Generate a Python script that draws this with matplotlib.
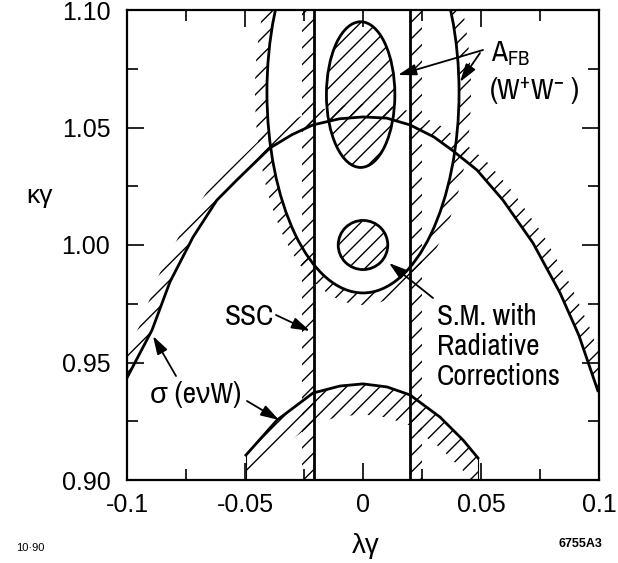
import numpy as np
import matplotlib
matplotlib.use('Agg')
import matplotlib.pyplot as plt
from matplotlib.patches import Ellipse, Annulus, Polygon
from matplotlib.ticker import FixedLocator

plt.rcParams['font.family'] = ['Liberation Sans', 'DejaVu Sans']
plt.rcParams['axes.unicode_minus'] = False
plt.rcParams['mathtext.default'] = 'regular'
plt.rcParams['hatch.linewidth'] = 1.0

ANN = ['Archivo Narrow', 'Liberation Sans', 'DejaVu Sans']

# ---------------- data ----------------
x_ticks = [-0.1, -0.05, 0, 0.05, 0.1]
x_ticklabels = ['-0.1', '-0.05', '0', '0.05', '0.1']
x_minor = [-0.075, -0.025, 0.025, 0.075]
y_ticks = [0.90, 0.95, 1.00, 1.05, 1.10]
y_ticklabels = ['0.90', '0.95', '1.00', '1.05', '1.10']
y_minor = [0.925, 0.975, 1.025, 1.075]

ssc_limits = [-0.0208, 0.0199]

sigma_upper_lam = [-0.1, -0.0894, -0.0818, -0.072, -0.0619, -0.0534, -0.0394, -0.03,
                   -0.0212, -0.01, 0.0, 0.01, 0.0199, 0.03, 0.0377, 0.0483, 0.0593,
                   0.072, 0.0835, 0.0915, 0.0995]
sigma_upper_kap = [0.9435, 0.9638, 0.9843, 1.0034, 1.0191, 1.0277, 1.0413, 1.047,
                   1.0511, 1.0537, 1.0545, 1.054, 1.0511, 1.046, 1.0404, 1.0319, 1.0191,
                   1.0009, 0.9796, 0.9615, 0.938]

sigma_lower_lam = [-0.0496, -0.0364, -0.0212, -0.0097, 0.0, 0.0102, 0.0199, 0.0326,
                   0.0424, 0.0487]
sigma_lower_kap = [0.9106, 0.9255, 0.937, 0.940, 0.9409, 0.9396, 0.9362, 0.9268,
                   0.917, 0.9094]

afb_outer_center = (0.0, 1.065)
afb_outer_semi = (0.0407, 0.0854)
afb_inner_center = (-0.001, 1.064)
afb_inner_semi = (0.0145, 0.031)
sm_center = (0.0, 1.0)
sm_radius = 0.0105

# ---------------- figure ----------------
W, H = 618, 563
fig = plt.figure(figsize=(W / 100, H / 100), dpi=100)
L, R, T, B = 127, 599, 10, 480
ax = fig.add_axes([L / W, 1 - B / H, (R - L) / W, (B - T) / H])
ax.set_xlim(-0.1, 0.1)
ax.set_ylim(0.90, 1.10)
sx = (R - L) / 0.2
sy = (B - T) / 0.2

HATCH = '//'
LW = 2.0


def band(lam, kap, width_px, side):
    lam = np.asarray(lam, float)
    kap = np.asarray(kap, float)
    X, Y = lam * sx, kap * sy
    tx, ty = np.gradient(X), np.gradient(Y)
    n = np.hypot(tx, ty)
    nx, ny = -ty / n, tx / n
    X2 = X + side * width_px * nx
    Y2 = Y + side * width_px * ny
    return np.column_stack([np.r_[lam, (X2 / sx)[::-1]], np.r_[kap, (Y2 / sy)[::-1]]])


# SSC vertical lines with outside hatching
ax.axvspan(ssc_limits[0] - 0.005, ssc_limits[0], fill=False, hatch=HATCH, lw=0, zorder=1)
ax.axvspan(ssc_limits[1], ssc_limits[1] + 0.005, fill=False, hatch=HATCH, lw=0, zorder=1)
for s in ssc_limits:
    ax.axvline(s, color='black', lw=LW, zorder=3)

# A_FB outer contour with outside hatching
w = 12 / sx
ax.add_patch(Annulus(afb_outer_center, (afb_outer_semi[0] + w, afb_outer_semi[1] + w), w,
                     fill=False, hatch=HATCH, lw=0, zorder=1))
ax.add_patch(Ellipse(afb_outer_center, 2 * afb_outer_semi[0], 2 * afb_outer_semi[1],
                     fill=False, edgecolor='black', lw=LW, zorder=3))

# A_FB inner ellipse (hatched inside)
ax.add_patch(Ellipse(afb_inner_center, 2 * afb_inner_semi[0], 2 * afb_inner_semi[1],
                     fill=False, hatch=HATCH, edgecolor='black', lw=LW, zorder=3))

# SM point with radiative corrections
ax.add_patch(Ellipse(sm_center, 2 * sm_radius, 2 * sm_radius * sy / sx,
                     fill=False, hatch=HATCH, edgecolor='black', lw=LW, zorder=3))

# sigma(e nu W) upper curve, hatched above
ax.add_patch(Polygon(band(sigma_upper_lam, sigma_upper_kap, 13, +1), closed=True,
                     fill=False, hatch=HATCH, lw=0, zorder=1))
ax.plot(sigma_upper_lam, sigma_upper_kap, color='black', lw=LW, zorder=3,
        solid_joinstyle='round')

# sigma(e nu W) lower curve, hatched below
lo_l = np.asarray(sigma_lower_lam)
lo_k = np.asarray(sigma_lower_kap)
ax.add_patch(Polygon(np.column_stack([np.r_[lo_l, lo_l[::-1]],
                                      np.r_[lo_k, (lo_k - 0.013)[::-1]]]),
                     closed=True, fill=False, hatch=HATCH, lw=0, zorder=1))
ax.plot(sigma_lower_lam, sigma_lower_kap, color='black', lw=LW, zorder=3,
        solid_joinstyle='round')
for i in (0, -1):
    ax.plot([lo_l[i], lo_l[i]], [0.90, lo_k[i]], color='black', lw=0.8, zorder=2)

# ---------------- axes styling ----------------
ax.xaxis.set_major_locator(FixedLocator(x_ticks))
ax.xaxis.set_minor_locator(FixedLocator(x_minor))
ax.yaxis.set_major_locator(FixedLocator(y_ticks))
ax.yaxis.set_minor_locator(FixedLocator(y_minor))
ax.set_xticklabels(x_ticklabels)
ax.set_yticklabels(y_ticklabels)
ax.tick_params(which='both', direction='in', top=True, right=True, width=1.2)
ax.tick_params(which='major', length=12, labelsize=18)
ax.tick_params(which='minor', length=8)
ax.tick_params(axis='x', pad=9)
ax.tick_params(axis='y', pad=12)
for sp in ax.spines.values():
    sp.set_linewidth(1.6)

# ---------------- annotations ----------------
AP = dict(arrowstyle='-|>,head_length=0.55,head_width=0.17', color='black', lw=1.3,
          mutation_scale=20, shrinkA=0, shrinkB=0)


def px(x, y):
    return ((x - L) / sx - 0.1, 1.10 - (y - T) / sy)


ax.annotate('', xy=px(398, 75), xytext=px(483, 50), arrowprops=AP, zorder=5)
ax.annotate('', xy=px(460, 82), xytext=px(480, 53), arrowprops=AP, zorder=5)
ax.annotate('', xy=px(310, 331), xytext=px(276, 315), arrowprops=AP, zorder=5)
ax.annotate('', xy=px(389, 263), xytext=px(433, 298), arrowprops=AP, zorder=5)
ax.annotate('', xy=px(153, 336), xytext=px(176, 376), arrowprops=AP, zorder=5)
ax.annotate('', xy=px(279, 420), xytext=px(247, 401), arrowprops=AP, zorder=5)

FS = 21
ax.text(*px(491, 61), r'A$_{FB}$', family=ANN, fontsize=FS, ha='left', va='baseline')
ax.text(*px(489, 100), r'(W$^{+}$W$^{-}$ )', family=ANN, fontsize=FS, ha='left',
        va='baseline')
ax.text(*px(274, 325), 'SSC', family=ANN, fontsize=FS, ha='right', va='baseline')
ax.text(*px(437, 325), 'S.M. with', family=ANN, fontsize=FS, ha='left', va='baseline')
ax.text(*px(437, 355), 'Radiative', family=ANN, fontsize=FS, ha='left', va='baseline')
ax.text(*px(437, 385), 'Corrections', family=ANN, fontsize=FS, ha='left', va='baseline')
ax.text(*px(150, 403), 'σ (eνW)', family=ANN, fontsize=FS, ha='left', va='baseline')

fig.text(40 / W, 1 - 196 / H, 'κγ', fontsize=19, ha='center', va='center')
fig.text(366 / W, 1 - 546 / H, 'λγ', fontsize=20, ha='center', va='center')
fig.text(30 / W, 1 - 548 / H, '10·90', fontsize=8, ha='center', va='center')
fig.text(580 / W, 1 - 544 / H, '6755A3', fontsize=9, ha='center', va='center',
         fontweight='bold')

fig.savefig('out.png', dpi=100)
